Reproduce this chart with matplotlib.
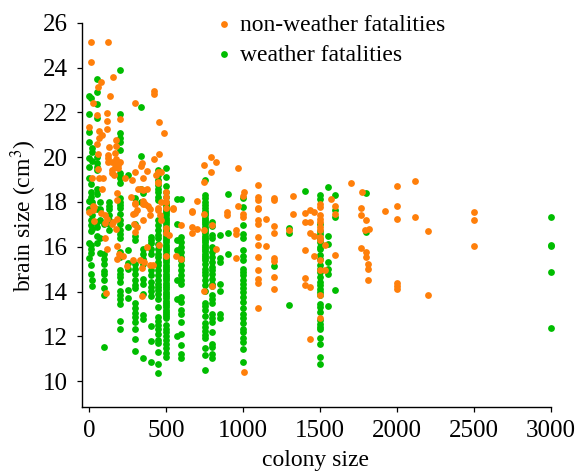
import matplotlib
matplotlib.use("Agg")
import matplotlib.pyplot as plt

plt.rcParams['font.family'] = ['Liberation Serif', 'DejaVu Serif']
plt.rcParams['mathtext.fontset'] = 'stix'

GREEN = '#00bd00'
ORANGE = '#ff7f0a'

# weather fatalities: colony size -> brain sizes
w_colony = [0, 10, 20, 50, 70, 100, 130, 200, 250, 300, 335, 350, 400, 450, 500,
            570, 600, 750, 800, 850, 900, 1000, 1200, 1300, 1400, 1500, 1550, 1600, 1800, 3000]
w_brain = [
    [19.06, 19.95, 19.58, 21.91, 21.1, 20.68, 18.04, 22.71, 17.7, 16.17, 15.52],
    [22.62, 18.79, 18.46, 18.24, 18.0, 17.63, 17.18, 16.96, 16.7, 16.07, 15.9, 15.73, 15.18, 14.8],
    [20.39, 20.25, 19.84, 18.0, 17.4, 16.8, 14.5, 14.26],
    [23.49, 22.9, 22.36, 21.76, 20.02, 19.75, 19.58, 19.43, 18.6, 18.34, 17.7, 17.1, 16.9, 16.5, 16.17],
    [18.0, 17.7, 17.18, 16.4, 15.73],
    [15.7, 15.47, 15.25, 14.92, 14.78, 14.5, 14.18, 13.87, 11.54, 17.0],
    [17.8, 18.0, 17.7, 17.4, 17.18, 17.0, 16.77],
    [23.89, 21.94, 21.09, 20.84, 20.66, 20.32, 19.28, 19.17, 19.06, 18.83, 18.16, 17.87, 18.0, 17.75,
     17.45, 17.2, 17.0, 16.77, 16.59, 16.41, 15.77, 15.55, 14.98, 14.8, 14.63, 14.43, 14.03, 13.84,
     13.65, 13.44, 12.68, 12.32],
    [19.2, 15.85, 15.28, 15.03, 14.09, 13.72, 16.88],
    [18.16, 17.03, 16.5, 16.3, 15.25, 15.03, 14.78, 14.5, 14.28, 14.17, 13.47, 13.29, 13.05, 12.87,
     12.65, 12.35, 11.9, 11.33],
    [22.25, 20.05, 18.6, 18.0],
    [18.4, 15.92, 15.7, 15.47, 15.25, 14.58, 14.36, 13.91, 12.95, 12.77, 11.05],
    [16.44, 16.3, 16.15, 15.92, 15.7, 14.95, 14.73, 14.43, 14.21, 14.03, 13.8, 12.47, 11.79, 10.88],
    [19.43, 19.2, 19.0, 18.76, 18.6, 18.45, 18.24, 18.08, 17.18, 16.96, 16.74, 16.51, 16.37, 16.14,
     15.92, 15.7, 15.55, 15.33, 15.18, 14.95, 14.73, 14.51, 14.36, 14.21, 14.06, 13.91, 13.65, 13.32,
     12.87, 12.7, 12.5, 12.35, 12.13, 11.83, 11.71, 11.31, 10.76, 10.35],
    [19.53, 19.13, 18.71, 18.46, 18.24, 18.02, 17.9, 17.8, 17.7, 17.6, 17.5, 17.4, 17.3, 17.2, 17.1,
     17.0, 16.9, 16.8, 16.7, 16.6, 16.5, 16.4, 16.3, 16.2, 16.1, 16.0, 15.9, 15.8, 15.7, 15.6, 15.5,
     15.4, 15.3, 15.2, 15.1, 15.0, 14.9, 14.8, 14.7, 14.6, 14.5, 14.4, 14.3, 14.2, 14.1, 14.0, 13.9,
     13.8, 13.7, 13.6, 13.5, 13.4, 13.3, 13.2, 13.1, 13.0, 12.9, 12.8, 12.5, 12.35, 12.2, 12.0, 11.85,
     11.65, 11.5, 11.25, 11.06],
    [18.12, 17.0, 16.3, 15.85, 14.5, 13.65, 12.0],
    [18.12, 16.44, 16.22, 16.0, 15.77, 15.55, 15.4, 15.18, 14.95, 14.73, 14.51, 14.36, 13.77, 13.54,
     13.17, 13.0, 12.65, 12.13, 11.61, 11.21, 11.02],
    [18.98, 18.31, 18.16, 18.02, 17.87, 17.72, 17.6, 17.5, 17.4, 17.3, 17.2, 17.1, 17.0, 16.9, 16.8,
     16.7, 16.6, 16.5, 16.4, 16.3, 16.2, 16.1, 16.0, 15.9, 15.8, 15.7, 15.6, 15.5, 15.4, 15.25, 15.03,
     14.88, 14.73, 14.51, 14.29, 14.03, 13.5, 13.36, 13.2, 12.9, 12.6, 12.4, 12.25, 12.05, 11.92,
     11.48, 11.18, 10.5],
    [17.11, 16.92, 16.51, 16.37, 16.0, 15.77, 15.55, 15.33, 15.1, 14.95, 14.8, 14.58, 14.36, 14.24,
     13.84, 13.69, 13.47, 13.02, 12.84, 12.65, 12.2, 11.68, 11.54, 11.21, 11.02],
    [16.51, 15.52, 15.33, 14.32, 14.03, 13.02, 12.84],
    [18.35, 16.6, 15.7],
    [18.16, 17.78, 16.96, 16.59, 16.37, 15.85, 15.58, 15.43, 15.03, 14.88, 14.73, 14.51, 14.33, 14.18,
     13.99, 13.77, 13.54, 13.25, 13.02, 12.84, 12.58, 12.35, 12.2, 11.92, 11.76, 11.42, 10.88],
    [15.13],
    [16.85, 16.62, 13.38],
    [18.49],
    [18.29, 18.15, 17.0, 16.7, 16.59, 16.36, 16.21, 15.99, 15.92, 15.62, 15.47, 15.17, 15.03, 14.88,
     14.65, 14.43, 14.28, 14.13, 13.98, 13.84, 13.46, 13.32, 13.09, 12.72, 12.57, 12.42, 12.32, 11.95,
     11.68, 11.09, 10.76],
    [18.67, 16.47, 16.14, 15.31, 15.02, 14.77, 13.36],
    [18.31, 17.63, 17.33, 14.07],
    [18.38, 16.66],
    [17.33, 16.1, 16.05, 14.87, 12.37],
]

# non-weather fatalities: paired colony size and brain size
nw_colony = [13, 120, 13, 154, 80, 58, 139, 28, 422, 422, 300, 455, 490, 200, 117, 117, 52, 0, 117, 65, 87, 67,
             50, 175, 177, 130, 56, 170, 120, 120, 175, 455, 422, 794, 749, 823, 794, 970, 342, 338, 125, 147,
             175, 200, 190, 170, 190, 147, 147, 160, 300, 375, 465, 445, 435, 20, 67, 90, 234, 277, 353, 55,
             450, 450, 749, 1100, 87, 316, 353, 375, 340, 180, 1004, 998, 1100, 1100, 273, 180, 700, 500, 500,
             500, 500, 300, 350, 365, 380, 470, 450, 548, 1100, 970, 667, 28,
             0, 28, 32, 32, 78, 104, 119, 104, 147, 180, 158, 173, 104, 180, 119, 197, 223, 180, 245, 284, 331,
             357, 342, 396, 418, 108, 344, 288, 300, 310, 350, 300, 396, 396, 350, 292, 310, 300, 379, 455,
             450, 460, 470, 500, 500, 522, 500, 548, 565, 600, 600, 667, 667, 667, 700, 749, 749, 749, 800,
             800, 823, 898, 898, 952, 952, 952, 1000, 1000, 1004, 1100, 1100, 1100, 1100, 1100, 1100, 1100,
             1100, 1100, 1100, 1150, 1150, 1200, 1200, 1324, 1324, 1200, 1200, 1200, 1200, 1200, 1200, 1300,
             1400, 1400, 1435, 1435, 1458, 1435, 1458, 1400, 1458, 1500, 1500, 1500, 1500, 1500, 1500, 1500,
             1500, 1500, 1534, 1500, 1500, 1534, 1400, 1400, 1435, 1500, 1500, 1435, 1600, 1600, 1573, 1600,
             1700, 1770, 1765, 1765, 1800, 1790, 1815, 1765, 1800, 1800, 1810, 1810, 1810, 1920, 2000, 2000,
             2000, 2120, 2120, 2200, 2000, 2000, 2000, 2200, 2500, 2500, 2500]
nw_brain = [25.12, 25.12, 24.26, 23.56, 23.35, 23.14, 22.71, 22.42, 22.97, 22.8, 22.4, 21.57, 21.06, 21.72, 21.97,
            21.61, 21.9, 21.36, 21.24, 21.17, 20.97, 20.84, 20.57, 20.77, 20.5, 20.45, 20.14, 20.2, 20.1, 19.95,
            19.92, 20.13, 19.92, 20.0, 19.65, 19.77, 19.35, 19.53, 19.72, 19.6, 19.78, 19.77, 19.8, 19.8, 19.65,
            19.58, 19.5, 19.43, 19.28, 19.2, 19.32, 19.37, 19.34, 19.32, 19.2, 19.06, 19.06, 19.09, 19.09, 18.98,
            19.06, 19.46, 18.9, 18.85, 18.88, 18.76, 18.6, 18.58, 18.53, 18.6, 18.56, 18.42, 18.46, 18.27, 18.24,
            18.09, 18.24, 18.09, 18.03, 18.46, 18.24, 18.0, 17.75, 17.94, 18.04, 17.9, 17.8, 17.98, 17.72, 17.72,
            17.72, 17.82, 17.6, 17.8,
            17.55, 17.63, 17.78, 17.15, 17.52, 17.4, 17.26, 17.06, 17.0, 17.26, 17.11, 16.81, 16.37, 16.04, 15.92,
            15.67, 15.6, 15.47, 15.13, 15.43, 15.43, 15.31, 15.06, 15.18, 15.18, 13.94, 13.8, 17.45, 17.5, 17.63,
            17.93, 17.93, 17.7, 17.41, 17.18, 17.0, 16.89, 16.66, 16.0, 16.07, 17.63, 17.41, 17.2, 16.84, 16.62,
            16.51, 15.58, 17.67, 15.58, 16.96, 15.47, 17.54, 16.89, 16.63, 16.81, 17.45, 16.74, 14.03, 16.99,
            14.24, 15.88, 17.55, 17.41, 16.77, 16.56, 15.52, 17.48, 17.33, 10.42, 17.7, 17.18, 17.03, 16.44,
            16.07, 15.55, 14.98, 14.58, 14.4, 13.27, 17.23, 16.02, 18.18, 18.07, 18.25, 17.48, 16.91, 16.63,
            15.5, 15.35, 14.65, 14.13, 16.73, 17.52, 17.1, 17.1, 17.63, 17.55, 16.62, 16.5, 15.87, 15.6, 17.92,
            17.77, 17.4, 17.25, 17.1, 16.88, 16.73, 16.44, 16.29, 16.09, 15.4, 14.98, 14.95, 14.61, 14.31, 14.21,
            13.84, 12.83, 11.9, 17.8, 17.48, 18.15, 15.65, 18.86, 18.44, 17.71, 17.43, 17.21, 16.73, 16.81, 15.95,
            15.77, 15.55, 15.22, 15.03, 14.5, 17.61, 18.7, 17.83, 17.22, 18.92, 17.31, 16.69, 14.4, 14.25, 14.13,
            13.87, 17.55, 17.2, 16.05]

x_ticks = [0, 500, 1000, 1500, 2000, 2500, 3000]
y_ticks = [10, 12, 14, 16, 18, 20, 22, 24, 26]

W, H = 579, 472
fig = plt.figure(figsize=(W / 100, H / 100), dpi=100)
left, right, top, bottom = 81.5, 551.0, 22.7, 407.0
ax = fig.add_axes([left / W, 1 - bottom / H, (right - left) / W, (bottom - top) / H])

wx = [c for c, vals in zip(w_colony, w_brain) for _ in vals]
wy = [v for vals in w_brain for v in vals]
ms = 24
ax.scatter(wx, wy, s=ms, color=GREEN, linewidths=0, zorder=2, label='weather fatalities', clip_on=False)
ax.scatter(nw_colony, nw_brain, s=ms, color=ORANGE, linewidths=0, zorder=3, label='non-weather fatalities', clip_on=False)

ax.set_xlim(-49, 3000)
ax.set_ylim(8.85, 26)
ax.set_xticks(x_ticks)
ax.set_yticks(y_ticks)
ax.spines['top'].set_visible(False)
ax.spines['right'].set_visible(False)
ax.spines['left'].set_linewidth(1.0)
ax.spines['bottom'].set_linewidth(1.0)
ax.tick_params(axis='both', direction='out', length=3.6, width=0.9, labelsize=18, pad=6)
ax.tick_params(axis='x', pad=5.5)

fig.text(316 / W, 1 - 466 / H, 'colony size', fontsize=17, ha='center', va='baseline')
ax.set_ylabel('brain size (cm$^3$)', fontsize=17)
ax.yaxis.set_label_coords((39 - left) / (right - left), (bottom - 216) / (bottom - top))

handles, labels = ax.get_legend_handles_labels()
leg = ax.legend(handles[::-1], labels[::-1], loc='upper left', frameon=False, fontsize=17,
                bbox_to_anchor=((212 - left) / (right - left), (bottom - 14) / (bottom - top)),
                borderaxespad=0, borderpad=0, labelspacing=0.36, handletextpad=0.18, handlelength=1.0)

fig.savefig('out.png', dpi=100)
